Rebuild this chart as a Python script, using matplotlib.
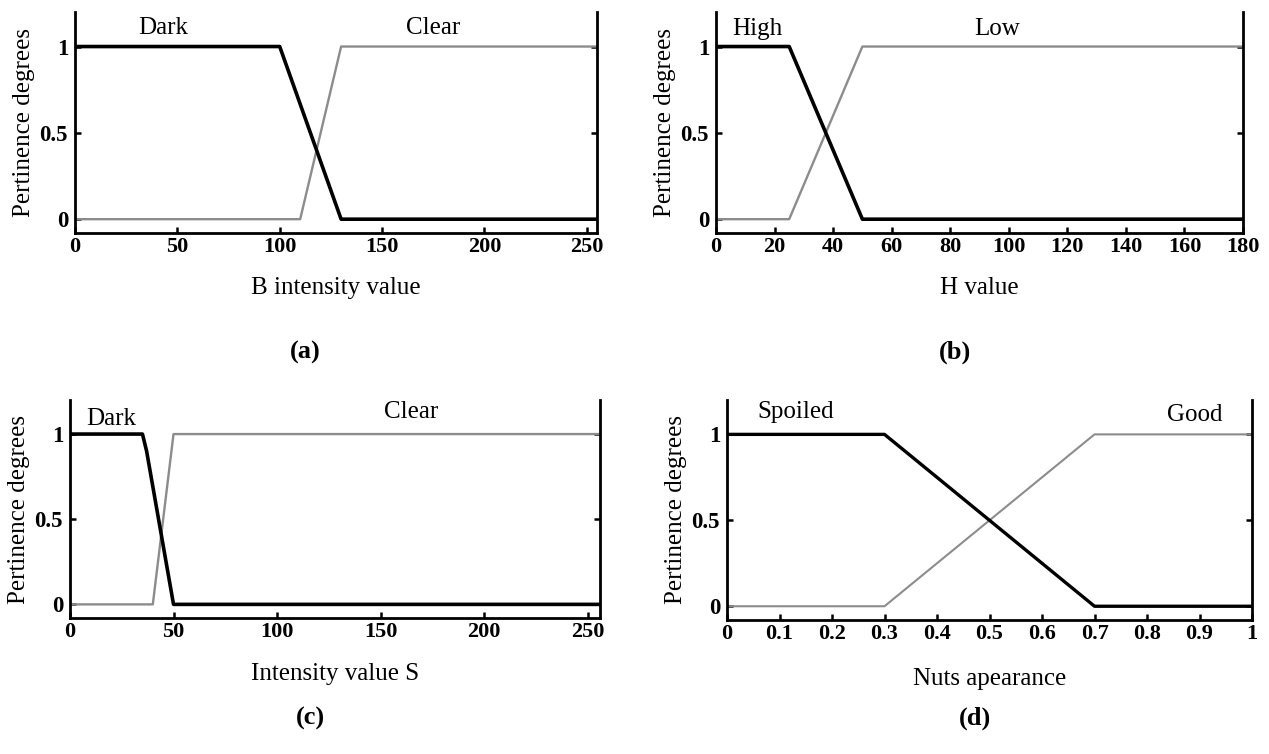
import matplotlib.pyplot as plt
import numpy as np

plt.rcParams['font.family'] = ['Liberation Serif', 'DejaVu Serif']

# (a) B intensity
a_x_dark = [0, 100, 130, 255]
a_y_dark = [1, 1, 0, 0]
a_x_clear = [0, 110, 130, 255]
a_y_clear = [0, 0, 1, 1]

# (b) H value
b_x_high = [0, 25, 50, 180]
b_y_high = [1, 1, 0, 0]
b_x_low = [0, 25, 50, 180]
b_y_low = [0, 0, 1, 1]

# (c) intensity S
c_x_dark = [0, 35, 37, 50, 256]
c_y_dark = [1, 1, 0.9, 0, 0]
c_x_clear = [0, 40, 50, 256]
c_y_clear = [0, 0, 1, 1]

# (d) nuts appearance
d_x_spoiled = [0, 0.3, 0.7, 1]
d_y_spoiled = [1, 1, 0, 0]
d_x_good = [0, 0.3, 0.7, 1]
d_y_good = [0, 0, 1, 1]

a_ticks = [0, 50, 100, 150, 200, 250]
b_ticks = [0, 20, 40, 60, 80, 100, 120, 140, 160, 180]
d_ticks = [0, 0.1, 0.2, 0.3, 0.4, 0.5, 0.6, 0.7, 0.8, 0.9, 1]
d_ticklabels = ['0', '0.1', '0.2', '0.3', '0.4', '0.5', '0.6', '0.7', '0.8', '0.9', '1']
y_ticks = [0, 0.5, 1]
y_ticklabels = ['0', '0.5', '1']

W, H = 1269, 754
fig = plt.figure(figsize=(W / 100, H / 100), dpi=100)


def make_ax(l, t, r, b):
    # pixel box -> figure fraction
    return fig.add_axes([l / W, 1 - b / H, (r - l) / W, (b - t) / H])


def style(ax, xlim, xticks, xlabels, xlabel, xpad):
    ax.set_xlim(*xlim)
    ax.set_ylim(-0.08, 1.2)
    ax.spines['top'].set_visible(False)
    for s in ['left', 'right', 'bottom']:
        ax.spines[s].set_linewidth(2)
    ax.set_xticks(xticks)
    ax.set_xticklabels(xlabels, fontweight='bold', fontsize=16)
    ax.set_yticks(y_ticks)
    ax.set_yticklabels(y_ticklabels, fontweight='bold', fontsize=16.5)
    ax.tick_params(direction='in', length=4, width=1.8, right=True, top=False)
    ax.tick_params(axis='x', pad=3)
    ax.tick_params(axis='y', pad=5)
    ax.set_xlabel(xlabel, fontsize=18, labelpad=xpad)
    ax.set_ylabel('Pertinence degrees', fontsize=18, labelpad=3)


gray = '#8c8c8c'

ax1 = make_ax(75, 12, 597, 233)
ax1.plot(a_x_clear, a_y_clear, color=gray, lw=1.7)
ax1.plot(a_x_dark, a_y_dark, color='k', lw=2.6)
style(ax1, (0, 255), a_ticks, [str(t) for t in a_ticks], 'B intensity value', 14)
ax1.text(43, 1.11, 'Dark', fontsize=18, ha='center', va='center')
ax1.text(175, 1.11, 'Clear', fontsize=18, ha='center', va='center')

ax2 = make_ax(716, 12, 1243, 233)
ax2.plot(b_x_low, b_y_low, color=gray, lw=1.7)
ax2.plot(b_x_high, b_y_high, color='k', lw=2.6)
style(ax2, (0, 180), b_ticks, [str(t) for t in b_ticks], 'H value', 14)
ax2.text(14, 1.1, 'High', fontsize=18, ha='center', va='center')
ax2.text(96, 1.1, 'Low', fontsize=18, ha='center', va='center')

ax3 = make_ax(70, 400, 600, 618)
ax3.plot(c_x_clear, c_y_clear, color=gray, lw=1.7)
ax3.plot(c_x_dark, c_y_dark, color='k', lw=2.6)
style(ax3, (0, 256), a_ticks, [str(t) for t in a_ticks], 'Intensity value S', 15)
ax3.text(20, 1.09, 'Dark', fontsize=18, ha='center', va='center')
ax3.text(165, 1.13, 'Clear', fontsize=18, ha='center', va='center')

ax4 = make_ax(727, 400, 1252, 620)
ax4.plot(d_x_good, d_y_good, color=gray, lw=1.5)
ax4.plot(d_x_spoiled, d_y_spoiled, color='k', lw=2.4)
style(ax4, (0, 1), d_ticks, d_ticklabels, 'Nuts apearance', 17)
ax4.text(0.13, 1.13, 'Spoiled', fontsize=18, ha='center', va='center')
ax4.text(0.89, 1.11, 'Good', fontsize=18, ha='center', va='center')

fig.text(305 / W, 1 - 352 / H, '(a)', fontsize=19, fontweight='bold', ha='center', va='center')
fig.text(955 / W, 1 - 352 / H, '(b)', fontsize=19, fontweight='bold', ha='center', va='center')
fig.text(310 / W, 1 - 718 / H, '(c)', fontsize=19, fontweight='bold', ha='center', va='center')
fig.text(975 / W, 1 - 718 / H, '(d)', fontsize=19, fontweight='bold', ha='center', va='center')

fig.savefig('out.png', dpi=100)
